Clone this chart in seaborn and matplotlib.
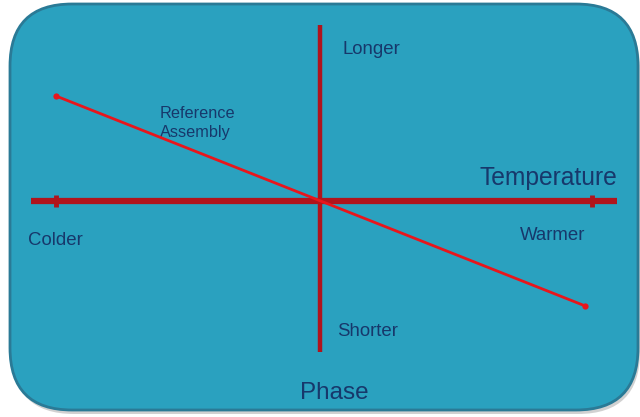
import numpy as np
import matplotlib
matplotlib.use("Agg")
import matplotlib.pyplot as plt
import seaborn as sns
from matplotlib.patches import FancyBboxPatch

# ----- diagram data (temperature vs phase) -----
temperature = [-0.985, 0.99]      # reference assembly line, x ends
phase = [1.0, -1.0]               # reference assembly line, y ends
temp_axis = [-1.078, 1.108]       # extent of temperature axis
phase_axis = [-1.438, 1.676]      # extent of phase axis
temp_ticks = [-0.985, 1.015]

label_cold, label_warm = "Colder", "Warmer"
label_long, label_short = "Longer", "Shorter"

sns.set_theme(style="white")
plt.rcParams['font.family'] = ['Liberation Sans', 'DejaVu Sans']

W, H = 640, 417
fig = plt.figure(figsize=(W / 100, H / 100), dpi=100)
fig.patch.set_facecolor("white")

# background panel in pixel space
bg = fig.add_axes([0, 0, 1, 1])
bg.set_xlim(0, W)
bg.set_ylim(H, 0)
bg.axis("off")
shadow = FancyBboxPatch((12, 7), 628, 407, boxstyle="round,pad=0,rounding_size=62",
                        fc="#9a9a9a", ec="none", alpha=0.45)
panel = FancyBboxPatch((10, 4), 628, 406, boxstyle="round,pad=0,rounding_size=62",
                       fc="#2aa1bf", ec="#2a7a96", lw=2.0)
bg.add_patch(shadow)
bg.add_patch(panel)

# data axes: origin at pixel (320, 201)
ax = fig.add_axes([0, 0, 1, 1])
ax.patch.set_alpha(0)
sx, sy = 268.0, 105.0
ax.set_xlim(-320 / sx, (W - 320) / sx)
ax.set_ylim(-(H - 201) / sy, 201 / sy)
ax.axis("off")

axis_red = "#b0141c"
ax.plot(temp_axis, [0, 0], color=axis_red, lw=4.5, solid_capstyle="butt")
ax.plot([0, 0], phase_axis, color=axis_red, lw=3.2, solid_capstyle="butt")
for t in temp_ticks:
    ax.plot([t, t], [-6 / sy, 6 / sy], color=axis_red, lw=3.5, solid_capstyle="butt")

sns.lineplot(x=temperature, y=phase, ax=ax, color="#e8161c", lw=2.0,
             marker="o", markersize=4.5, markeredgewidth=0, sort=False)

navy = "#17386b"
bg.text(343, 49, label_long, color=navy, fontsize=13.4, va="center", ha="left")
bg.text(337, 331, label_short, color=navy, fontsize=13.4, va="center", ha="left")
bg.text(28, 240, label_cold, color=navy, fontsize=13.4, va="center", ha="left")
bg.text(520, 235, label_warm, color=navy, fontsize=13.4, va="center", ha="left")
bg.text(160, 113, "Reference", color=navy, fontsize=11.7, va="center", ha="left")
bg.text(160, 133, "Assembly", color=navy, fontsize=11.7, va="center", ha="left")
bg.text(479, 178, "Temperature", color=navy, fontsize=17.7, va="center", ha="left")
bg.text(300, 393, "Phase", color=navy, fontsize=17.5, va="center", ha="left")

fig.savefig("out.png", dpi=100)
